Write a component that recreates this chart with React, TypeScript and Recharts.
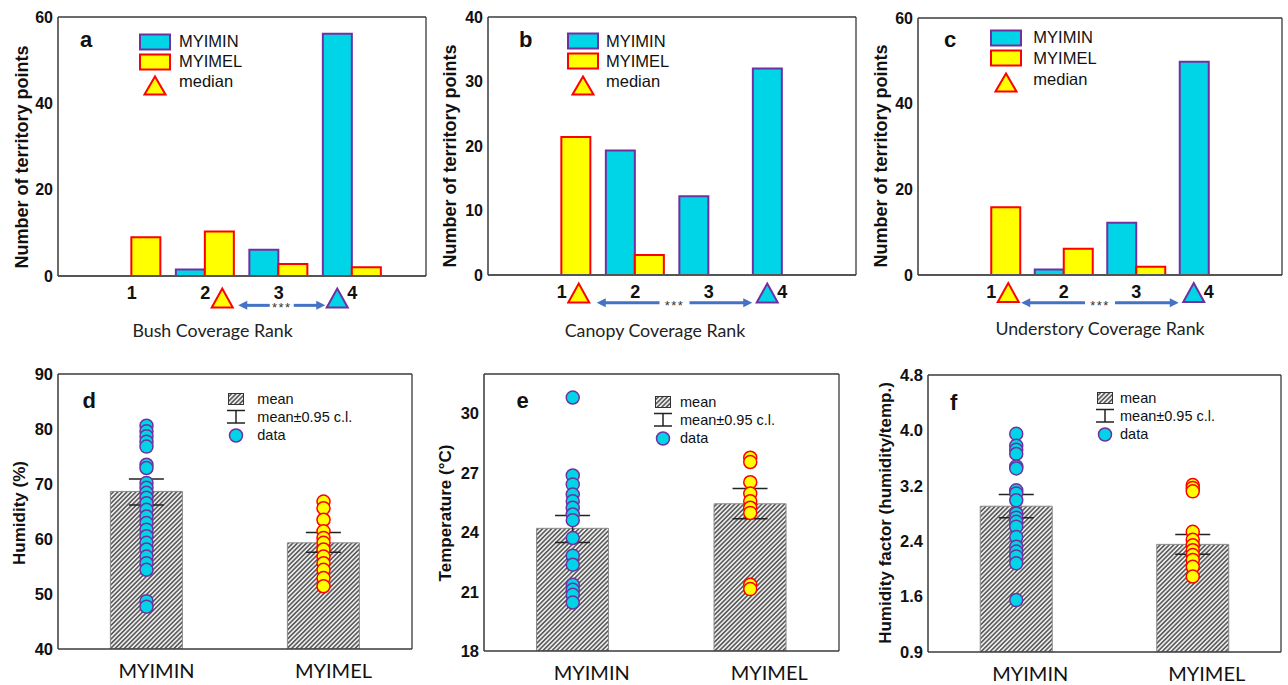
import React from 'react';
import {
  ComposedChart,
  Bar,
  XAxis,
  YAxis,
  Scatter,
  ErrorBar,
  ReferenceDot,
  ReferenceLine,
  Legend,
} from 'recharts';

const ARIAL = '"Liberation Sans", Arial, Helvetica, sans-serif';
const CAL = 'Lato, "Open Sans", sans-serif';
const CYAN = '#00D5E8';
const PURPLE = '#7030A0';
const YELLOW = '#FFFF00';
const RED = '#FF0000';
const BLUE = '#4472C4';
const AXIS = '#3a3a3a';

// ---------- data: panels a-c (counts of territory points per coverage rank) ----------
const rankCats = ['1', '2', '3', '4'];
const bushMYIMIN = [0, 1.5, 6.1, 56.1];
const bushMYIMEL = [9, 10.3, 2.8, 2];
const canopyMYIMIN = [0, 19.3, 12.2, 32];
const canopyMYIMEL = [21.4, 3.1, 0, 0];
const understoryMYIMIN = [0, 1.3, 12.2, 49.8];
const understoryMYIMEL = [15.8, 6.1, 1.9, 0];
const bushMedian = { MYIMEL: '2', MYIMIN: '4' };
const canopyMedian = { MYIMEL: '1', MYIMIN: '4' };
const understoryMedian = { MYIMEL: '1', MYIMIN: '4' };
const countTicks60 = [0, 20, 40, 60];
const countTicks40 = [0, 10, 20, 30, 40];

// ---------- data: panels d-f ----------
const groups = ['MYIMIN', 'MYIMEL'];
const humidityMean = [68.65, 59.3];
const humidityLow = [66.2, 57.6];
const humidityHigh = [70.9, 61.2];
const humidityMYIMIN = [80.6, 79.6, 78.7, 77.7, 76.8, 73.5, 72.9, 70.2, 69.3, 68.4, 67.5, 66.5, 65.3, 64.1, 62.9, 61.7, 60.5, 59.3, 58.1, 56.8, 55.6, 54.4, 48.7, 47.7];
const humidityMYIMEL = [66.8, 65.6, 63.5, 61.4, 60.2, 59.3, 58.1, 56.8, 55.6, 54.4, 52.9, 51.4];
const humidityTicks = [40, 50, 60, 70, 80, 90];

const tempMean = [24.2, 25.44];
const tempLow = [23.49, 24.68];
const tempHigh = [24.85, 26.21];
const tempMYIMIN = [30.81, 26.87, 26.42, 25.91, 25.57, 25.24, 24.9, 24.61, 23.71, 22.82, 22.36, 21.35, 21.09, 20.84, 20.45];
const tempMYIMEL = [27.77, 27.55, 26.53, 25.96, 25.57, 25.24, 24.98, 21.35, 21.13];
const tempTicks = [18, 21, 24, 27, 30];

const factorMean = [2.905, 2.354];
const factorLow = [2.737, 2.21];
const factorHigh = [3.073, 2.498];
const factorMYIMIN = [3.95, 3.78, 3.72, 3.66, 3.48, 3.45, 3.135, 3.09, 2.99, 2.8, 2.74, 2.68, 2.61, 2.46, 2.32, 2.25, 2.18, 2.08, 1.55];
const factorMYIMEL = [3.21, 3.17, 3.12, 2.535, 2.42, 2.34, 2.27, 2.2, 2.13, 2.03, 1.89];
const factorTicks = [0.8, 1.6, 2.4, 3.2, 4.0, 4.8];
const factorTickLabels = ['0.9', '1.6', '2.4', '3.2', '4.0', '4.8'];

const topLegendItems = [
  { label: 'MYIMIN', kind: 'box', fill: CYAN, stroke: PURPLE },
  { label: 'MYIMEL', kind: 'box', fill: YELLOW, stroke: RED },
  { label: 'median', kind: 'tri', fill: YELLOW, stroke: RED },
];
const bottomLegendItems = [
  { label: 'mean', kind: 'hatch' },
  { label: 'mean\u00b10.95 c.l.', kind: 'err' },
  { label: 'data', kind: 'dot' },
];

// ---------- layout configs ----------
const topPanels = [
  {
    key: 'a', left: 0, width: 430, mt: 17, mr: 4, xh: 69, yMax: 60, ticks: countTicks60,
    min: bushMYIMIN, mel: bushMYIMEL, med: bushMedian, triY: -5.1, arrowY: -6.8,
    xTitle: 'Bush Coverage Rank', xTitleX: 212.6, xTitleY: 330, yTitleX: 21.7, yTitleY: 157,
    legLeft: 139, legTop: 31.7, legRow: 20, legGap: 8, arrowStart: 33, arrowEnd: 27, starGap: 12,
  },
  {
    key: 'b', left: 430, width: 430, mt: 17, mr: 4, xh: 70, yMax: 40, ticks: countTicks40,
    min: canopyMYIMIN, mel: canopyMYIMEL, med: canopyMedian, triY: -2.8, arrowY: -4.3,
    xTitle: 'Canopy Coverage Rank', xTitleX: 225, xTitleY: 330, yTitleX: 20, yTitleY: 156,
    legLeft: 137.3, legTop: 31, legRow: 20.3, legGap: 6.7, arrowStart: 35, arrowEnd: 30, starGap: 15,
  },
  {
    key: 'c', left: 860, width: 428, mt: 18, mr: 6, xh: 70, yMax: 60, ticks: countTicks60,
    min: understoryMYIMIN, mel: understoryMYIMEL, med: understoryMedian, triY: -4.1, arrowY: -6.5,
    xTitle: 'Understory Coverage Rank', xTitleX: 240, xTitleY: 328, yTitleX: 20.7, yTitleY: 156,
    legLeft: 130.3, legTop: 27.3, legRow: 20.8, legGap: 11, arrowStart: 30, arrowEnd: 30, starGap: 15,
  },
];

const bottomPanels = [
  {
    key: 'd', left: 0, width: 430, mt: 29, mr: 18, yw: 58, xh: 36, domain: [40, 90], ticks: humidityTicks, tickLabels: null as string[] | null,
    mean: humidityMean, lo: humidityLow, hi: humidityHigh, ptsMin: humidityMYIMIN, ptsMel: humidityMYIMEL,
    yTitle: 'Humidity (%)', yTitleX: 19, yTitleY: 168, tickDx: 10,
    legLeft: 223.5, legTop: 45.3, legRow: 17.8, legGap: 9.8,
  },
  {
    key: 'e', left: 430, width: 430, mt: 29, mr: 21, yw: 54, xh: 34, domain: [18, 32], ticks: tempTicks, tickLabels: null as string[] | null,
    mean: tempMean, lo: tempLow, hi: tempHigh, ptsMin: tempMYIMIN, ptsMel: tempMYIMEL,
    yTitle: 'Temperature (\u00b0C)', yTitleX: 15.7, yTitleY: 168, tickDx: 19,
    legLeft: 220.5, legTop: 48.3, legRow: 18, legGap: 5.5,
  },
  {
    key: 'f', left: 860, width: 428, mt: 30, mr: 7, yw: 68, xh: 33, domain: [0.8, 4.8], ticks: factorTicks, tickLabels: factorTickLabels,
    mean: factorMean, lo: factorLow, hi: factorHigh, ptsMin: factorMYIMIN, ptsMel: factorMYIMEL,
    yTitle: 'Humidity factor (humidity/temp.)', yTitleX: 25.3, yTitleY: 168, tickDx: 14,
    legLeft: 233, legTop: 44.3, legRow: 17.8, legGap: 3,
  },
];

const letters = [
  { t: 'a', x: 80, y: 46.7 },
  { t: 'b', x: 519, y: 46.7 },
  { t: 'c', x: 944, y: 46.7 },
  { t: 'd', x: 82.5, y: 408.3 },
  { t: 'e', x: 516.5, y: 407.7 },
  { t: 'f', x: 950, y: 410 },
];

// ---------- shapes ----------
function triPath(cx: number, cy: number, w = 21, h = 19) {
  return `M${cx - w / 2},${cy + h / 2} L${cx + w / 2},${cy + h / 2} L${cx},${cy - h / 2} Z`;
}

const makeTriangle = (dx: number, fill: string, stroke: string) => (p: any) => {
  if (p == null || !Number.isFinite(p.cx) || !Number.isFinite(p.cy)) return <g />;
  return <path d={triPath(p.cx + dx, p.cy)} fill={fill} stroke={stroke} strokeWidth={2} strokeLinejoin="miter" />;
};

const makeArrow = (start: number, end: number, gap: number) => (p: any) => {
  if (p == null || !Number.isFinite(p.x1) || !Number.isFinite(p.x2)) return <g />;
  const y = p.y1;
  const xs = p.x1 + start;
  const xe = p.x2 - end;
  const mid = (xs + xe) / 2;
  const hl = 9;
  const hw = 4.5;
  return (
    <g>
      <line x1={xs + hl - 1} y1={y} x2={mid - gap} y2={y} stroke={BLUE} strokeWidth={3} />
      <path d={`M${xs},${y} L${xs + hl},${y - hw} L${xs + hl},${y + hw} Z`} fill={BLUE} />
      <line x1={mid + gap} y1={y} x2={xe - hl + 1} y2={y} stroke={BLUE} strokeWidth={3} />
      <path d={`M${xe},${y} L${xe - hl},${y - hw} L${xe - hl},${y + hw} Z`} fill={BLUE} />
      <text x={mid} y={y + 7} textAnchor="middle" fontSize={13} fontFamily={ARIAL} fill="#333" letterSpacing={1.5}>
        ***
      </text>
    </g>
  );
};

const dotShape = (fill: string, stroke: string) => (p: any) => {
  if (p == null || !Number.isFinite(p.cx) || !Number.isFinite(p.cy)) return <g />;
  return <circle cx={p.cx} cy={p.cy} r={6.5} fill={fill} stroke={stroke} strokeWidth={1.5} />;
};

function HatchDef({ id }: { id: string }) {
  return (
    <pattern id={id} patternUnits="userSpaceOnUse" width={3.2} height={3.2} patternTransform="rotate(45)">
      <rect x={0} y={0} width={3.2} height={3.2} fill="#ececec" />
      <line x1={1.6} y1={-1} x2={1.6} y2={4.2} stroke="#3c3c3c" strokeWidth={1.3} />
    </pattern>
  );
}

// ---------- legends ----------
function TopLegendBox({ row, gap }: { row: number; gap: number }) {
  return (
    <div style={{ fontFamily: ARIAL, fontSize: 16.5, color: '#111', lineHeight: 1 }}>
      {topLegendItems.map((it) => (
        <div key={it.label} style={{ display: 'flex', alignItems: 'center', height: row, whiteSpace: 'nowrap' }}>
          <svg width={32} height={20} style={{ display: 'block', overflow: 'visible' }}>
            {it.kind === 'box' ? (
              <rect x={1} y={2.5} width={30} height={15} fill={it.fill} stroke={it.stroke} strokeWidth={2} />
            ) : (
              <path d={triPath(16, 13.5, 21, 18)} fill={it.fill} stroke={it.stroke} strokeWidth={2} />
            )}
          </svg>
          <span style={{ marginLeft: gap }}>{it.label}</span>
        </div>
      ))}
    </div>
  );
}

function BottomLegendBox({ row, gap, id }: { row: number; gap: number; id: string }) {
  return (
    <div style={{ fontFamily: ARIAL, fontSize: 14.5, color: '#111', lineHeight: 1 }}>
      {bottomLegendItems.map((it) => (
        <div key={it.label} style={{ display: 'flex', alignItems: 'center', height: row, whiteSpace: 'nowrap' }}>
          <svg width={24} height={18} style={{ display: 'block', overflow: 'visible' }}>
            <defs>
              <HatchDef id={id} />
            </defs>
            {it.kind === 'hatch' && (
              <rect x={4.5} y={3.5} width={15} height={11} fill={`url(#${id})`} stroke="#333" strokeWidth={1} />
            )}
            {it.kind === 'err' && (
              <g stroke="#222" strokeWidth={1.5}>
                <line x1={3} y1={2.5} x2={21} y2={2.5} />
                <line x1={12} y1={2.5} x2={12} y2={15} />
                <line x1={3} y1={15} x2={21} y2={15} />
              </g>
            )}
            {it.kind === 'dot' && <circle cx={12} cy={9.5} r={6.5} fill={CYAN} stroke={PURPLE} strokeWidth={1.5} />}
          </svg>
          <span style={{ marginLeft: gap }}>{it.label}</span>
        </div>
      ))}
    </div>
  );
}

// ---------- panels ----------
function TopPanel({ c }: { c: (typeof topPanels)[number] }) {
  const data = rankCats.map((r, i) => ({ rank: r, MYIMIN: c.min[i], MYIMEL: c.mel[i] }));
  const H = 345;
  return (
    <div style={{ position: 'absolute', left: c.left, top: 0, width: c.width, height: H }}>
      <ComposedChart
        width={c.width}
        height={H}
        data={data}
        margin={{ top: c.mt, right: c.mr, left: 0, bottom: 0 }}
        barCategoryGap="10%"
        barGap={0}
      >
        <XAxis
          dataKey="rank"
          type="category"
          padding={{ left: 37, right: 37 }}
          height={c.xh}
          interval={0}
          axisLine={{ stroke: '#555', strokeWidth: 2 }}
          tickLine={false}
          tickSize={6}
          tickMargin={4}
          tick={{ fontSize: 18, fontWeight: 700, fill: '#111', fontFamily: ARIAL }}
          label={() => (
            <text x={c.xTitleX} y={c.xTitleY} textAnchor="middle" dominantBaseline="central" fontFamily={CAL} fontSize={17.8} fill="#222">
              {c.xTitle}
            </text>
          )}
        />
        <XAxis xAxisId="top" orientation="top" mirror type="number" domain={[0, 1]} tick={false} tickLine={false} height={5} axisLine={{ stroke: AXIS, strokeWidth: 1.3 }} />
        <YAxis
          type="number"
          domain={[0, c.yMax]}
          ticks={c.ticks}
          width={58}
          interval={0}
          axisLine={{ stroke: AXIS, strokeWidth: 1.5 }}
          tickLine={false}
          tickSize={0}
          tickMargin={5}
          tick={{ fontSize: 16, fontWeight: 700, fill: '#111', fontFamily: ARIAL }}
          label={() => (
            <text
              x={c.yTitleX}
              y={c.yTitleY}
              transform={`rotate(-90, ${c.yTitleX}, ${c.yTitleY})`}
              textAnchor="middle"
              dominantBaseline="central"
              fontFamily={ARIAL}
              fontWeight={700}
              fontSize={18}
              fill="#111"
            >
              Number of territory points
            </text>
          )}
        />
        <YAxis yAxisId="right" orientation="right" mirror type="number" domain={[0, c.yMax]} ticks={c.ticks} width={5} tick={false} tickSize={5} axisLine={{ stroke: AXIS, strokeWidth: 1.3 }} tickLine={{ stroke: AXIS }} />
        <Bar dataKey="MYIMIN" fill={CYAN} stroke={PURPLE} strokeWidth={2} isAnimationActive={false} />
        <Bar dataKey="MYIMEL" fill={YELLOW} stroke={RED} strokeWidth={2} isAnimationActive={false} />
        <ReferenceLine
          segment={[
            { x: c.med.MYIMEL, y: c.arrowY },
            { x: c.med.MYIMIN, y: c.arrowY },
          ]}
          ifOverflow="visible"
          shape={makeArrow(c.arrowStart, c.arrowEnd, c.starGap)}
        />
        <ReferenceDot x={c.med.MYIMEL} y={c.triY} ifOverflow="visible" shape={makeTriangle(17, YELLOW, RED)} />
        <ReferenceDot x={c.med.MYIMIN} y={c.triY} ifOverflow="visible" shape={makeTriangle(-15, CYAN, PURPLE)} />
        <Legend
          layout="vertical"
          align="center"
          verticalAlign="middle"
          wrapperStyle={{ left: c.legLeft, top: c.legTop, width: 'auto' }}
          content={() => <TopLegendBox row={c.legRow} gap={c.legGap} />}
        />
      </ComposedChart>
    </div>
  );
}

function BottomPanel({ c }: { c: (typeof bottomPanels)[number] }) {
  const H = 340;
  const hatchId = `hatch-${c.key}`;
  const data = groups.map((g, i) => ({
    name: g,
    mean: c.mean[i],
    err: [c.mean[i] - c.lo[i], c.hi[i] - c.mean[i]],
  }));
  const minPts = c.ptsMin.map((v) => ({ name: groups[0], v }));
  const melPts = c.ptsMel.map((v) => ({ name: groups[1], v }));
  return (
    <div style={{ position: 'absolute', left: c.left, top: 345, width: c.width, height: H }}>
      <ComposedChart
        width={c.width}
        height={H}
        data={data}
        margin={{ top: c.mt, right: c.mr, left: 0, bottom: 0 }}
        barCategoryGap="29.6%"
      >
        <defs>
          <HatchDef id={hatchId} />
        </defs>
        <XAxis
          dataKey="name"
          type="category"
          allowDuplicatedCategory={false}
          height={c.xh}
          interval={0}
          axisLine={{ stroke: AXIS, strokeWidth: 1.5 }}
          tickLine={false}
          tickSize={0}
          tickMargin={15}
          tick={{ fontSize: 20, fill: '#111', fontFamily: CAL, dx: c.tickDx }}
        />
        <XAxis xAxisId="top" orientation="top" mirror type="number" domain={[0, 2]} ticks={[0.5, 1.5]} tick={false} tickSize={5} height={5} axisLine={{ stroke: AXIS, strokeWidth: 1.3 }} tickLine={{ stroke: AXIS }} />
        <YAxis
          type="number"
          domain={c.domain}
          ticks={c.ticks}
          width={c.yw}
          interval={0}
          allowDataOverflow
          axisLine={{ stroke: AXIS, strokeWidth: 1.5 }}
          tickLine={false}
          tickSize={0}
          tickMargin={5}
          tickFormatter={(v: number, i: number) => (c.tickLabels ? c.tickLabels[i] : String(v))}
          tick={{ fontSize: 16.5, fontWeight: 700, fill: '#111', fontFamily: ARIAL }}
          label={() => (
            <text
              x={c.yTitleX}
              y={c.yTitleY}
              transform={`rotate(-90, ${c.yTitleX}, ${c.yTitleY})`}
              textAnchor="middle"
              dominantBaseline="central"
              fontFamily={ARIAL}
              fontWeight={700}
              fontSize={17}
              fill="#111"
            >
              {c.yTitle}
            </text>
          )}
        />
        <YAxis yAxisId="right" orientation="right" mirror type="number" domain={c.domain} ticks={c.ticks} allowDataOverflow width={5} tick={false} tickSize={5} axisLine={{ stroke: AXIS, strokeWidth: 1.3 }} tickLine={{ stroke: AXIS }} />
        <Bar dataKey="mean" fill={`url(#${hatchId})`} stroke="#8a8a8a" strokeWidth={1} isAnimationActive={false}>
          <ErrorBar dataKey="err" width={17.5} stroke="#222" strokeWidth={1.5} direction="y" />
        </Bar>
        <Scatter data={minPts} dataKey="v" shape={dotShape(CYAN, PURPLE)} isAnimationActive={false} />
        <Scatter data={melPts} dataKey="v" shape={dotShape(YELLOW, RED)} isAnimationActive={false} />
        <Legend
          layout="vertical"
          align="center"
          verticalAlign="middle"
          wrapperStyle={{ left: c.legLeft, top: c.legTop, width: 'auto' }}
          content={() => <BottomLegendBox row={c.legRow} gap={c.legGap} id={`leg-${hatchId}`} />}
        />
      </ComposedChart>
    </div>
  );
}

export default function App() {
  return (
    <div style={{ position: 'absolute', left: 0, top: 0, width: 1288, height: 685, background: '#fff', overflow: 'hidden' }}>
      {topPanels.map((c) => (
        <TopPanel key={c.key} c={c} />
      ))}
      {bottomPanels.map((c) => (
        <BottomPanel key={c.key} c={c} />
      ))}
      <svg width={1288} height={685} style={{ position: 'absolute', left: 0, top: 0, pointerEvents: 'none' }}>
        {letters.map((l) => (
          <text key={l.t} x={l.x} y={l.y} fontFamily={ARIAL} fontWeight={700} fontSize={22} fill="#111">
            {l.t}
          </text>
        ))}
      </svg>
    </div>
  );
}
